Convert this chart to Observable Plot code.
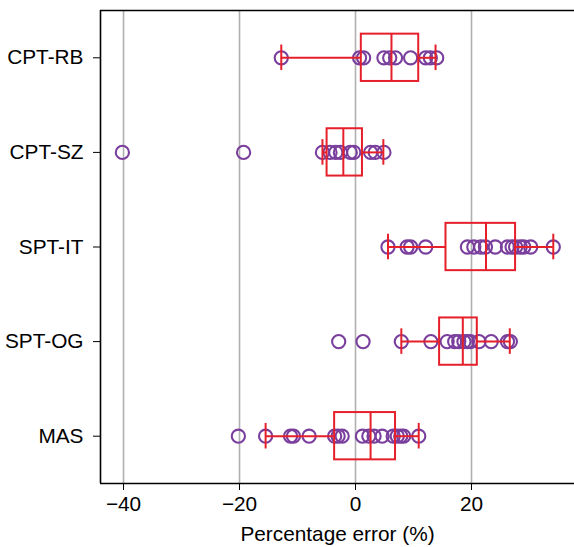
<!DOCTYPE html>
<html>
<head>
<meta charset="utf-8">
<script src="https://cdn.jsdelivr.net/npm/d3@7"></script>
<script src="https://cdn.jsdelivr.net/npm/@observablehq/plot@0.6"></script>
<style>
  html, body { margin: 0; padding: 0; background: #fff; }
  #chart svg { display: block; }
</style>
</head>
<body>
<div id="chart"></div>
<script>
const categories = ["CPT-RB", "CPT-SZ", "SPT-IT", "SPT-OG", "MAS"];

// Individual percentage errors per method
const cptRB = [-12.8, 0.7, 1.4, 4.9, 5.9, 6.9, 9.5, 12.1, 12.9, 14.0];
const cptSZ = [-40.2, -19.3, -5.7, -4.4, -3.4, -2.6, -0.9, -0.3, 2.6, 3.4, 4.9];
const sptIT = [5.6, 8.9, 9.5, 12.1, 19.3, 20.4, 21.6, 22.4, 24.1, 26.2, 27.0, 27.6, 28.4, 29.0, 30.2, 34.1];
const sptOG = [-2.9, 1.3, 7.9, 13.0, 15.8, 17.1, 17.8, 18.7, 19.3, 19.8, 21.3, 23.4, 26.2, 26.7];
const mas = [-20.2, -15.5, -11.2, -10.7, -8.0, -3.6, -3.0, -2.3, 1.2, 2.3, 3.2, 4.6, 6.5, 7.2, 7.8, 8.3, 10.9];

// Box-plot statistics (same order as categories)
const whiskerLow = [-12.8, -5.7, 5.6, 7.9, -15.5];
const quart1 = [1.0, -4.9, 15.6, 14.5, -3.6];
const medians = [6.2, -2.1, 22.5, 18.5, 2.6];
const quart3 = [10.9, 1.2, 27.6, 21.0, 6.9];
const whiskerHigh = [13.8, 4.8, 34.1, 26.6, 10.9];

const xTicks = [-40, -20, 0, 20];

const series = [cptRB, cptSZ, sptIT, sptOG, mas];
const points = series.flatMap((vals, i) => vals.map(v => ({row: i + 1, value: v})));
const stats = categories.map((c, i) => ({
  row: i + 1, lo: whiskerLow[i], q1: quart1[i], med: medians[i], q3: quart3[i], hi: whiskerHigh[i]
}));

const purple = "#7a3f9d";
const red = "#e5202b";
const xDomain = [-43.97, 37.76];
const yDomain = [0.5, 5.5];

const chart = Plot.plot({
  width: 574,
  height: 547,
  marginLeft: 100,
  marginRight: 0,
  marginTop: 10,
  marginBottom: 64,
  style: {fontFamily: "'Liberation Sans', Arial, sans-serif", fontSize: "20.8px", color: "black", background: "white"},
  x: {domain: xDomain, ticks: xTicks, tickSize: 7, tickPadding: 6,
      tickFormat: d => d < 0 ? "\u2212" + Math.abs(d) : String(d),
      label: "Percentage error (%)", labelAnchor: "center", labelArrow: "none", labelOffset: 57},
  y: {domain: yDomain, reverse: true, ticks: [1, 2, 3, 4, 5], tickSize: 7, tickPadding: 10,
      tickFormat: d => categories[d - 1], label: null},
  marks: [
    Plot.ruleX(xTicks, {stroke: "#b0b0b0", strokeWidth: 1.6}),
    Plot.dot(points, {x: "value", y: "row", r: 6.6, stroke: purple, strokeWidth: 2.1, fill: "none"}),
    Plot.ruleY(stats, {x1: "lo", x2: "q1", y: "row", stroke: red, strokeWidth: 2}),
    Plot.ruleY(stats, {x1: "q3", x2: "hi", y: "row", stroke: red, strokeWidth: 2}),
    Plot.rect(stats, {x1: "q1", x2: "q3", y1: d => d.row - 0.25, y2: d => d.row + 0.25, fill: "none", stroke: red, strokeWidth: 2}),
    Plot.ruleX(stats, {x: "med", y1: d => d.row - 0.25, y2: d => d.row + 0.25, stroke: red, strokeWidth: 2}),
    Plot.ruleX(stats, {x: "lo", y1: d => d.row - 0.135, y2: d => d.row + 0.135, stroke: red, strokeWidth: 2}),
    Plot.ruleX(stats, {x: "hi", y1: d => d.row - 0.135, y2: d => d.row + 0.135, stroke: red, strokeWidth: 2}),
    Plot.ruleX([xDomain[0]], {stroke: "black", strokeWidth: 1.6}),
    Plot.ruleY(yDomain, {stroke: "black", strokeWidth: 1.6})
  ]
});
document.getElementById("chart").appendChild(chart);
</script>
</body>
</html>
